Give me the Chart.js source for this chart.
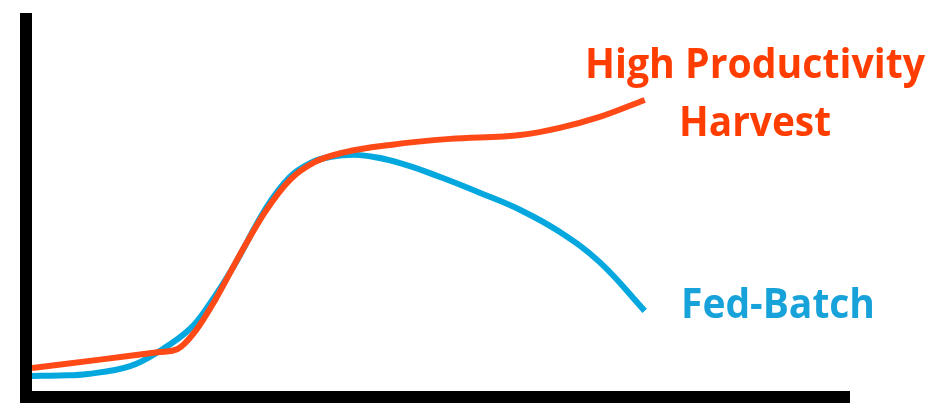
<!DOCTYPE html>
<html>
<head>
<meta charset="utf-8">
<script src="https://cdn.jsdelivr.net/npm/chart.js@4/dist/chart.umd.min.js"></script>
<style>
  html, body { margin: 0; padding: 0; background: #fff; }
  #wrap { width: 939px; height: 404px; }
</style>
</head>
<body>
<div id="wrap"><canvas id="chart" width="939" height="404"></canvas></div>
<script>
// values (x: time, y: titer), both on a 0-100 scale
const harvestX = [0, 8.3, 15.6, 17.8, 20.0, 22.4, 25.4, 28.5, 31.5, 34.6, 38.3, 43.8, 51.1, 59.7, 64.5, 69.4, 74.9];
const harvestY = [6.1, 8.3, 10.3, 11.1, 15.9, 24.1, 36.0, 47.4, 55.8, 60.6, 63.2, 65.1, 66.7, 67.7, 69.6, 72.5, 77.0];

const fedBatchX = [0, 3.4, 6.8, 12.0, 15.6, 19.3, 21.8, 24.6, 28.7, 31.5, 34.0, 36.4, 40.1, 45.0, 49.9, 54.8, 59.7, 64.5, 69.4, 74.9];
const fedBatchY = [4.0, 4.1, 4.5, 6.6, 10.6, 16.4, 23.3, 32.8, 48.7, 56.6, 60.3, 61.9, 62.4, 60.3, 56.6, 52.4, 47.9, 42.1, 34.1, 21.2];

const harvestLabel = ['High Productivity', 'Harvest'];
const fedBatchLabel = ['Fed-Batch'];

const orange = '#FF4A17';
const blue = '#04A8DF';

function toPoints(xs, ys) {
    return xs.map((x, i) => ({ x: x, y: ys[i] }));
}

// thick black axes drawn along the chart area edges
const axesPlugin = {
    id: 'axes',
    beforeDatasetsDraw(chart) {
        const ctx = chart.ctx;
        const a = chart.chartArea;
        ctx.save();
        ctx.fillStyle = '#000';
        ctx.fillRect(a.left - 12, a.top, 12, a.bottom - a.top + 12);
        ctx.fillRect(a.left - 12, a.bottom, a.right - a.left + 12, 12);
        ctx.restore();
    }
};

// series names written next to the line ends
const labelPlugin = {
    id: 'lineLabels',
    afterDatasetsDraw(chart) {
        const ctx = chart.ctx;
        ctx.save();
        ctx.font = 'bold 42px "Open Sans"';
        ctx.textAlign = 'center';
        ctx.textBaseline = 'alphabetic';
        ctx.fillStyle = '#FF3D00';
        ctx.fillText(harvestLabel[0], 755, 78, 340);
        ctx.fillText(harvestLabel[1], 755, 136, 152);
        ctx.fillStyle = '#17A2DA';
        ctx.fillText(fedBatchLabel[0], 778, 318, 194);
        ctx.restore();
    }
};

new Chart(document.getElementById('chart').getContext('2d'), {
    type: 'line',
    data: {
        datasets: [{
            label: harvestLabel.join(' '),
            data: toPoints(harvestX, harvestY),
            borderColor: orange,
            borderWidth: 6,
            pointRadius: 0,
            cubicInterpolationMode: 'monotone',
            order: 0
        }, {
            label: fedBatchLabel[0],
            data: toPoints(fedBatchX, fedBatchY),
            borderColor: blue,
            borderWidth: 6,
            pointRadius: 0,
            tension: 0.4,
            order: 1
        }]
    },
    options: {
        responsive: false,
        animation: false,
        layout: { padding: { left: 32, top: 13, right: 89, bottom: 13 } },
        plugins: {
            legend: { display: false },
            tooltip: { enabled: false }
        },
        scales: {
            x: { type: 'linear', min: 0, max: 100, display: false },
            y: { min: 0, max: 100, display: false }
        }
    },
    plugins: [axesPlugin, labelPlugin]
});
</script>
</body>
</html>
